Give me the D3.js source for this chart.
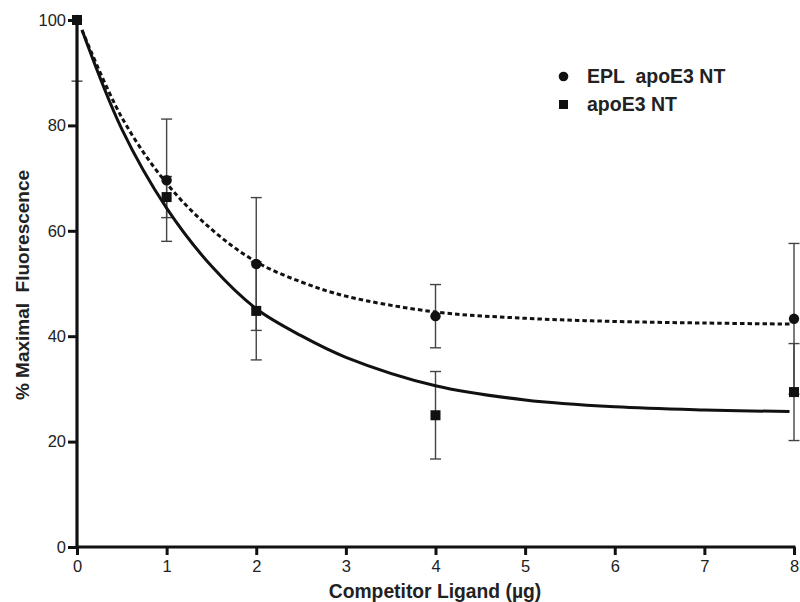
<!DOCTYPE html>
<html><head><meta charset="utf-8">
<script src="https://cdn.jsdelivr.net/npm/d3@7"></script>
<style>
body{margin:0;background:#fff;}
svg{display:block;}
</style></head>
<body>
<svg id="chart" width="800" height="602"></svg>
<script>
// ---- data ----
const doseX = [0, 1, 2, 4, 8];
const eplY = [100, 69.6, 53.7, 43.8, 43.3];
const eplErr = [11.6, 11.6, 12.6, 6.0, 14.3];
const apoY = [100, 66.4, 44.8, 25.0, 29.4];
const apoErr = [0, 3.9, 9.3, 8.3, 9.2];
const fitX = [0.056, 0.5, 1, 1.5, 2, 2.5, 3, 4, 5, 6, 7, 7.95];
const eplFitY = [98.1, 81.5, 69.0, 60.3, 54.1, 50.3, 47.6, 44.6, 43.4, 42.8, 42.5, 42.3];
const apoFitY = [98.1, 79.3, 64.3, 53.3, 45.2, 40.1, 36.0, 30.6, 27.9, 26.6, 26.0, 25.7];
const xTicks = [0, 1, 2, 3, 4, 5, 6, 7, 8];
const yTicks = [0, 20, 40, 60, 80, 100];
const seriesNames = ["EPL  apoE3 NT", "apoE3 NT"];
const xTitle = "Competitor Ligand (µg)";
const yTitle = "% Maximal  Fluorescence";

// ---- layout ----
const svg = d3.select("#chart");
const x = d3.scaleLinear().domain([0, 8]).range([77, 794]);
const y = d3.scaleLinear().domain([0, 100]).range([547, 20]);
const ink = "#111";
const tickFont = "'Liberation Sans Narrow','Arial Narrow',sans-serif";
const boldFont = "'Liberation Sans',Arial,sans-serif";

svg.append("defs").append("clipPath").attr("id", "plotclip")
  .append("rect").attr("x", 60).attr("y", 20).attr("width", 740).attr("height", 560);

// error bars
const eb = svg.append("g").attr("clip-path", "url(#plotclip)")
  .attr("stroke", "#444").attr("stroke-width", 1.4).attr("fill", "none");
function errBars(ys, errs) {
  doseX.forEach((d, i) => {
    if (!errs[i]) return;
    const cx = x(d), y1 = y(ys[i] + errs[i]), y2 = y(ys[i] - errs[i]);
    eb.append("line").attr("x1", cx).attr("x2", cx).attr("y1", y1).attr("y2", y2);
    [y1, y2].forEach(yy => eb.append("line").attr("x1", cx - 5.5).attr("x2", cx + 5.5).attr("y1", yy).attr("y2", yy));
  });
}
errBars(eplY, eplErr);
errBars(apoY, apoErr);

// axes
const xAxis = d3.axisBottom(x).tickValues(xTicks).tickSize(8).tickPadding(5).tickFormat(d3.format("d"));
const yAxis = d3.axisLeft(y).tickValues(yTicks).tickSize(9).tickPadding(2).tickFormat(d3.format("d"));
const gx = svg.append("g").attr("transform", "translate(0,547)").call(xAxis);
const gy = svg.append("g").attr("transform", "translate(77,0)").call(yAxis);
[gx, gy].forEach(g => {
  g.select(".domain").attr("stroke", ink).attr("stroke-width", 3.2);
  g.selectAll(".tick line").attr("stroke", ink).attr("stroke-width", 3);
  g.selectAll(".tick text").attr("fill", "#222").style("font-family", tickFont).style("font-size", "16.5px");
});
gx.select(".domain").attr("d", "M77,0H795.5");
gy.select(".domain").attr("d", "M0,20V548.5");

// fitted curves
const line = d3.line().x((d, i) => x(fitX[i])).y(d => y(d)).curve(d3.curveCatmullRom.alpha(0.5));
svg.append("path").datum(apoFitY).attr("d", line).attr("fill", "none")
  .attr("stroke", "#111").attr("stroke-width", 3);
svg.append("path").datum(eplFitY).attr("d", line).attr("fill", "none")
  .attr("stroke", "#111").attr("stroke-width", 3).attr("stroke-dasharray", "4.5,3");

// markers
svg.append("g").selectAll("circle").data(eplY).join("circle")
  .attr("cx", (d, i) => x(doseX[i])).attr("cy", d => y(d)).attr("r", 5.2).attr("fill", "#111");
svg.append("g").selectAll("rect").data(apoY).join("rect")
  .attr("x", (d, i) => x(doseX[i]) - 5).attr("y", d => y(d) - 5)
  .attr("width", 10).attr("height", 10).attr("fill", "#111");

// legend
svg.append("circle").attr("cx", 563.5).attr("cy", 76.5).attr("r", 4.8).attr("fill", "#111");
svg.append("rect").attr("x", 559).attr("y", 100).attr("width", 9).attr("height", 9).attr("fill", "#111");
svg.append("text").attr("x", 587).attr("y", 83).text(seriesNames[0])
  .style("white-space", "pre").attr("xml:space", "preserve")
  .style("font-family", boldFont).style("font-weight", "bold").style("font-size", "19.5px").attr("fill", "#222");
svg.append("text").attr("x", 587).attr("y", 111).text(seriesNames[1])
  .style("font-family", boldFont).style("font-weight", "bold").style("font-size", "19.5px").attr("fill", "#222");

// axis titles
svg.append("text").attr("x", 435).attr("y", 598).attr("text-anchor", "middle").text(xTitle)
  .style("font-family", boldFont).style("font-weight", "bold").style("font-size", "19.3px").attr("fill", "#222");
svg.append("text").attr("transform", "translate(28.5,285) rotate(-90)").attr("text-anchor", "middle")
  .style("white-space", "pre").attr("xml:space", "preserve").text(yTitle)
  .style("font-family", boldFont).style("font-weight", "bold").style("font-size", "19px").attr("fill", "#222");
</script>
</body></html>
